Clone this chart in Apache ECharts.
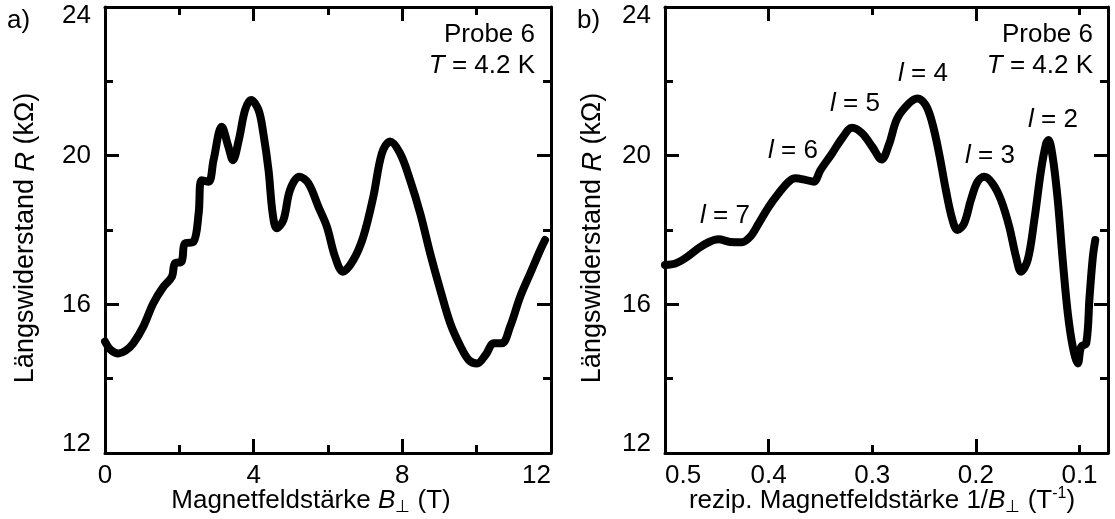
<!DOCTYPE html>
<html>
<head>
<meta charset="utf-8">
<script src="https://cdn.jsdelivr.net/npm/echarts@6/dist/echarts.min.js"></script>
<style>
  html, body { margin: 0; padding: 0; background: #fff; }
  #chart { width: 1115px; height: 519px; }
</style>
</head>
<body>
<div id="chart"></div>
<script>
// Longitudinal resistance of sample 6 at 4.2 K versus perpendicular field B (T)
const fieldB = [0, 0.15, 0.36, 0.55, 0.76, 1.03, 1.3, 1.57, 1.8, 1.88, 2.06, 2.15, 2.38, 2.52, 2.6, 2.79,
  2.92, 3.14, 3.32, 3.44, 3.6, 3.77, 3.93, 4.13, 4.26, 4.4, 4.51, 4.62, 4.8, 4.98, 5.23, 5.47, 5.74,
  5.97, 6.19, 6.4, 6.68, 6.95, 7.22, 7.45, 7.67, 7.94, 8.21, 8.48, 8.75, 9.02, 9.29, 9.57, 9.79,
  10.01, 10.24, 10.46, 10.68, 10.9, 11.17, 11.44, 11.71, 11.84];
const resistanceB = [15.0, 14.78, 14.68, 14.75, 14.95, 15.4, 16.03, 16.47, 16.74, 17.1, 17.15, 17.64, 17.68, 18.45, 19.34, 19.3,
  19.88, 20.78, 20.24, 19.88, 20.42, 21.23, 21.5, 21.23, 20.6, 19.61, 18.45, 18.05, 18.27, 19.08, 19.43, 19.26, 18.63,
  18.09, 17.28, 16.88, 17.19, 17.82, 18.9, 20.06, 20.38, 20.06, 19.34, 18.45, 17.37, 16.39, 15.49, 14.86, 14.5,
  14.41, 14.64, 14.95, 14.95, 15.4, 16.2, 16.83, 17.46, 17.73];

// The same measurement plotted against the reciprocal field 1/B (1/T)
const inverseB = [0.5, 0.49, 0.4806, 0.4677, 0.458, 0.4484, 0.437, 0.4259, 0.4177, 0.4097, 0.4, 0.3903, 0.3806,
  0.3742, 0.3645, 0.3565, 0.35, 0.3388, 0.3291, 0.3194, 0.3097, 0.3, 0.291, 0.2839, 0.2759, 0.2645, 0.2565,
  0.2484, 0.242, 0.2355, 0.229, 0.2226, 0.2178, 0.2113, 0.2048, 0.1984, 0.192, 0.1839, 0.1758, 0.1678, 0.1613,
  0.1564, 0.15, 0.1436, 0.1371, 0.1322, 0.13, 0.1259, 0.121, 0.1162, 0.1113, 0.1065, 0.1016, 0.0984, 0.0935,
  0.0903, 0.0871, 0.0848];
const resistanceInv = [17.06, 17.1, 17.24, 17.51, 17.67, 17.75, 17.68, 17.67, 17.82, 18.17, 18.62, 18.99, 19.3,
  19.39, 19.35, 19.3, 19.61, 20.06, 20.47, 20.75, 20.6, 20.24, 19.9, 20.3, 21.0, 21.41, 21.54,
  21.36, 20.87, 20.06, 19.08, 18.27, 18.0, 18.18, 18.81, 19.3, 19.43, 19.25, 18.81, 18.09, 17.28,
  16.88, 17.19, 18.27, 19.61, 20.33, 20.42, 19.97, 18.81, 17.19, 15.76, 14.86, 14.41, 14.86, 14.95,
  16.2, 17.28, 17.73];

// Tick labels
const inverseTickLabels = [0.1, 0.2, 0.3, 0.4, 0.5];
const inverseMajorTicks = [0.2, 0.4, 0.5];
const inverseMinorTicks = [0.1, 0.3];

// Landau level indices marked on the 1/B panel
const levelIndices = [7, 6, 5, 4, 3, 2];

const FONT = '"Liberation Sans", Arial, Helvetica, sans-serif';
const FS = 26;
const TITLE_FS = 27;
const BLACK = '#000';

const chart = echarts.init(document.getElementById('chart'), null, { renderer: 'canvas' });

const gridA = { left: 105, top: 7, width: 446, height: 446 };
const gridB = { left: 665, top: 7, width: 443, height: 446 };

const lineStyleAxis = { color: BLACK, width: 3 };
const tickStyle = { color: BLACK, width: 3 };
const labelStyle = { color: BLACK, fontSize: FS, fontFamily: FONT };

function valueAxisY(gridIndex, position, showLabel) {
  return {
    type: 'value', gridIndex, position,
    min: 12, max: 24, interval: 4,
    axisLine: { show: true, onZero: false, lineStyle: lineStyleAxis },
    axisTick: { show: true, inside: true, length: 14, lineStyle: tickStyle },
    minorTick: { show: true, splitNumber: 2, length: 8, lineStyle: tickStyle },
    splitLine: { show: false }, minorSplitLine: { show: false },
    axisLabel: Object.assign({ show: showLabel, margin: 14, lineHeight: 18,
      verticalAlignMaxLabel: 'top', verticalAlignMinLabel: 'bottom' }, labelStyle)
  };
}

function fieldAxis(position, showLabel) {
  return {
    type: 'value', gridIndex: 0, position,
    min: 0, max: 12, interval: 4,
    axisLine: { show: true, onZero: false, lineStyle: lineStyleAxis },
    axisTick: { show: true, inside: true, length: 14, lineStyle: tickStyle },
    minorTick: { show: true, splitNumber: 2, length: 8, lineStyle: tickStyle },
    splitLine: { show: false }, minorSplitLine: { show: false },
    axisLabel: Object.assign({ show: showLabel, margin: 10, alignMaxLabel: 'right' }, labelStyle)
  };
}

function inverseAxis(position, ticks, tickLen, withLabels, withLine) {
  return {
    type: 'value', gridIndex: 1, position, inverse: true,
    min: 0.0725, max: 0.5,
    axisLine: { show: withLine, onZero: false, lineStyle: lineStyleAxis },
    axisTick: { show: true, inside: true, length: tickLen, lineStyle: tickStyle, customValues: ticks },
    splitLine: { show: false },
    axisLabel: Object.assign({
      show: withLabels, margin: 10, customValues: inverseTickLabels,
      alignMaxLabel: 'left', alignMinLabel: 'center',
      formatter: v => v.toFixed(1)
    }, labelStyle)
  };
}

function richSet(fs) {
  return {
    n: { fontSize: fs, fontFamily: FONT, fill: BLACK, lineHeight: 30 },
    i: { fontSize: fs, fontFamily: FONT, fontStyle: 'italic', fill: BLACK, lineHeight: 30 },
    s: { fontSize: 17, fontFamily: FONT, fill: BLACK, lineHeight: 14, verticalAlign: 'bottom' },
    p: { fontSize: 16, fontFamily: FONT, fill: BLACK, lineHeight: 16, verticalAlign: 'top' }
  };
}

function text(x, y, str, align, rotation, fs) {
  const size = fs || FS;
  return {
    type: 'text', x, y, rotation: rotation || 0, silent: true,
    style: { text: str, rich: richSet(size), textAlign: align || 'center', textVerticalAlign: 'middle',
      fontSize: size, fontFamily: FONT, fill: BLACK }
  };
}

const levelAnchors = [[725, 216], [793, 151], [855, 104], [923, 74], [990, 156], [1053, 120]];

const graphics = [
  text(7, 21, '{n|a)}', 'left'),
  text(577, 21, '{n|b)}', 'left'),
  text(535, 35, '{n|Probe 6}', 'right'),
  text(535, 66, '{i|T}{n| = 4.2 K}', 'right'),
  text(1093, 35, '{n|Probe 6}', 'right'),
  text(1093, 66, '{i|T}{n| = 4.2 K}', 'right'),
  text(26, 238, '{n|Längswiderstand }{i|R}{n| (kΩ)}', 'center', Math.PI / 2, TITLE_FS),
  text(593, 238, '{n|Längswiderstand }{i|R}{n| (kΩ)}', 'center', Math.PI / 2, TITLE_FS),
  text(311, 501, '{n|Magnetfeldstärke }{i|B}{s|⊥}{n| (T)}', 'center'),
  text(882, 501, '{n|rezip. Magnetfeldstärke 1/}{i|B}{s|⊥}{n| (T}{p|-1}{n|)}', 'center')
].concat(levelIndices.map((l, k) =>
  text(levelAnchors[k][0], levelAnchors[k][1], '{i|l}{n| = ' + l + '}', 'center')));

const curveStyle = { color: BLACK, width: 8, cap: 'round', join: 'round' };

const option = {
  animation: false,
  backgroundColor: '#fff',
  grid: [gridA, gridB],
  xAxis: [
    fieldAxis('bottom', true),
    fieldAxis('top', false),
    inverseAxis('bottom', inverseMajorTicks, 14, true, true),
    inverseAxis('bottom', inverseMinorTicks, 8, false, false),
    inverseAxis('top', inverseMajorTicks, 14, false, true),
    inverseAxis('top', inverseMinorTicks, 8, false, false)
  ],
  yAxis: [
    valueAxisY(0, 'left', true),
    valueAxisY(0, 'right', false),
    valueAxisY(1, 'left', true),
    valueAxisY(1, 'right', false)
  ],
  series: [
    {
      type: 'line', xAxisIndex: 0, yAxisIndex: 0,
      data: fieldB.map((b, k) => [b, resistanceB[k]]),
      showSymbol: false, smooth: 0.35, lineStyle: curveStyle
    },
    {
      type: 'line', xAxisIndex: 2, yAxisIndex: 2,
      data: inverseB.map((u, k) => [u, resistanceInv[k]]),
      showSymbol: false, smooth: 0.35, lineStyle: curveStyle
    }
  ],
  graphic: graphics
};

chart.setOption(option);
</script>
</body>
</html>
